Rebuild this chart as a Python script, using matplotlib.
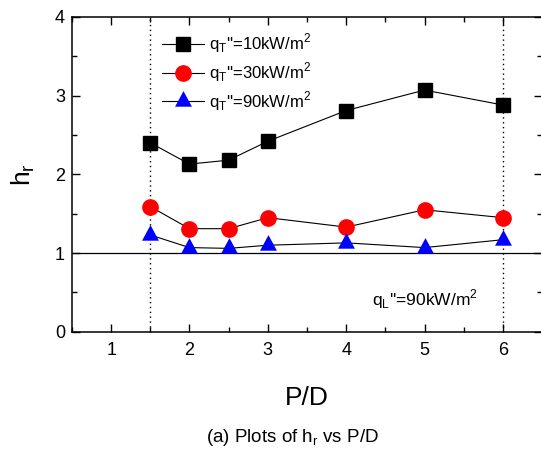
import matplotlib
matplotlib.use("Agg")
import matplotlib.pyplot as plt
from matplotlib.ticker import MultipleLocator

plt.rcParams['font.family'] = ['Liberation Sans', 'DejaVu Sans']
plt.rcParams['mathtext.fontset'] = 'custom'
plt.rcParams['mathtext.rm'] = 'Liberation Sans'

# data
pd_ratio = [1.5, 2, 2.5, 3, 4, 5, 6]
hr_q10 = [2.40, 2.13, 2.18, 2.42, 2.81, 3.07, 2.88]
hr_q30 = [1.59, 1.31, 1.31, 1.45, 1.33, 1.55, 1.45]
hr_q90 = [1.23, 1.07, 1.06, 1.10, 1.13, 1.07, 1.17]
series_labels = ["q$_\\mathregular{T}$''=10kW/m$^\\mathregular{2}$",
                 "q$_\\mathregular{T}$''=30kW/m$^\\mathregular{2}$",
                 "q$_\\mathregular{T}$''=90kW/m$^\\mathregular{2}$"]

# triangle centred on its centroid, like the Origin marker
tri = [(0, 1), (-0.81, -0.5), (0.81, -0.5), (0, 1)]

fig = plt.figure(figsize=(5.41, 4.54), dpi=100)
ax = fig.add_axes([0.133, 0.269, 0.869, 0.694])

ax.axhline(1, color='black', lw=0.9, zorder=1)
for xv in (1.5, 6):
    ax.axvline(xv, color='black', lw=1.0, ls=(0, (1, 2.5)), zorder=1)

ax.plot(pd_ratio, hr_q10, color='black', lw=0.8, marker='s', ms=10,
        mfc='black', mec='black', label=series_labels[0])
ax.plot(pd_ratio, hr_q30, color='black', lw=0.8, marker='o', ms=11,
        mfc='red', mec='red', label=series_labels[1])
ax.plot(pd_ratio, hr_q90, color='black', lw=0.8, marker=tri, ms=15,
        mfc='blue', mec='blue', mew=0, label=series_labels[2])

ax.set_xlim(0.5, 6.5)
ax.set_ylim(0, 4)
ax.xaxis.set_major_locator(MultipleLocator(1))
ax.xaxis.set_minor_locator(MultipleLocator(0.5))
ax.yaxis.set_major_locator(MultipleLocator(1))
ax.yaxis.set_minor_locator(MultipleLocator(0.5))
ax.tick_params(which='both', direction='in', top=True, right=True, width=1.0)
ax.tick_params(which='major', length=6, labelsize=13)
ax.tick_params(which='minor', length=3.5)
ax.tick_params(axis='x', pad=7)
ax.tick_params(axis='y', pad=5)
for s in ax.spines.values():
    s.set_linewidth(1.1)

ax.set_xlabel('P/D', fontsize=19, labelpad=20)
ax.set_ylabel('h$_\\mathregular{r}$', fontsize=19, labelpad=13)

ax.legend(loc='upper left', bbox_to_anchor=(0.16, 1.0), frameon=False,
          fontsize=12, handlelength=2.5, handletextpad=0.3, labelspacing=0.3)

ax.text(5.0, 0.42, "q$_\\mathregular{L}$''=90kW/m$^\\mathregular{2}$",
        fontsize=12.5, ha='center', va='center')

fig.text(292 / 541, 1 - 438 / 454, '(a) Plots of h$_\\mathregular{r}$ vs P/D',
         fontsize=13.5, ha='center', va='center')

fig.savefig('out.png', dpi=100)
